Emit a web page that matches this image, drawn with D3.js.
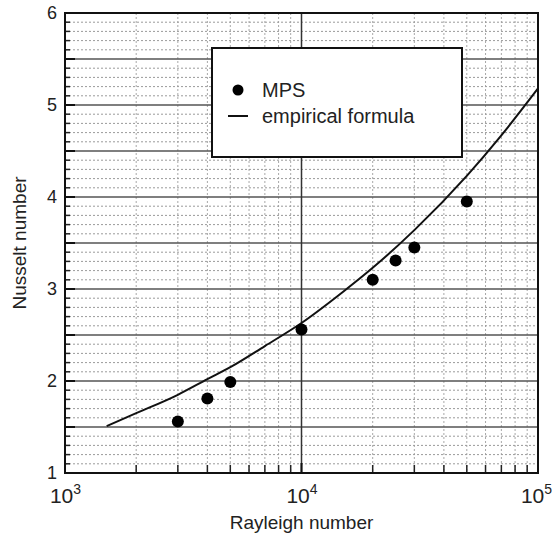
<!DOCTYPE html>
<html>
<head>
<meta charset="utf-8">
<script src="https://cdn.jsdelivr.net/npm/d3@7"></script>
<style>
  html, body { margin: 0; padding: 0; background: #fff; }
  svg { display: block; font-family: "Liberation Sans", Arial, sans-serif; }
</style>
</head>
<body>
<svg id="chart" width="552" height="540"></svg>
<script>
// ---- data ----
const raMPS = [3000, 4000, 5000, 10000, 20000, 25000, 30000, 50000];
const nuMPS = [1.56, 1.81, 1.99, 2.56, 3.10, 3.31, 3.45, 3.95];

const raFormula = [1500, 2000, 3000, 4000, 5000, 7000, 10000, 15000, 20000, 30000, 50000, 70000, 100000];
const nuFormula = [1.51, 1.65, 1.85, 2.02, 2.15, 2.38, 2.63, 2.97, 3.23, 3.64, 4.23, 4.67, 5.18];

const xTickValues = [1e3, 1e4, 1e5];
const xTickExponents = ["3", "4", "5"];
const yTickValues = [1, 2, 3, 4, 5, 6];
const legendLabels = ["MPS", "empirical formula"];
const xTitle = "Rayleigh number";
const yTitle = "Nusselt number";

// ---- layout ----
const pL = 65, pR = 538, pT = 13, pB = 473;
const svg = d3.select("#chart");

const x = d3.scaleLog().domain([1e3, 1e5]).range([pL, pR]);
const y = d3.scaleLinear().domain([1, 6]).range([pB, pT]);

// minor values
const xMinor = [];
[1e3, 1e4].forEach(d => { for (let k = 2; k <= 9; k++) xMinor.push(d * k); });
const yMinor = d3.range(11, 60).map(v => v / 10).filter(v => Math.abs(v * 2 - Math.round(v * 2)) > 1e-6);
const yHalf = d3.range(3, 12).map(v => v / 2); // 1.5 .. 5.5

const g = svg.append("g");

// minor grid (dotted)
g.selectAll(".vminor").data(xMinor).join("line")
  .attr("x1", d => x(d)).attr("x2", d => x(d))
  .attr("y1", pT).attr("y2", pB)
  .attr("stroke", "#a8a8a8").attr("stroke-width", 1)
  .attr("stroke-dasharray", "2,2");
g.selectAll(".hminor").data(yMinor).join("line")
  .attr("x1", pL).attr("x2", pR)
  .attr("y1", d => y(d)).attr("y2", d => y(d))
  .attr("stroke", "#9a9a9a").attr("stroke-width", 1)
  .attr("stroke-dasharray", "2,2");

// major grid
g.selectAll(".hmajor").data(yHalf).join("line")
  .attr("x1", pL).attr("x2", pR)
  .attr("y1", d => y(d)).attr("y2", d => y(d))
  .attr("stroke", "#555").attr("stroke-width", 1.5);
g.append("line")
  .attr("x1", x(1e4)).attr("x2", x(1e4))
  .attr("y1", pT).attr("y2", pB)
  .attr("stroke", "#333").attr("stroke-width", 1.5);

// inward tick marks
g.selectAll(".ytk").data(yMinor).join("line")
  .attr("x1", pL).attr("x2", pL + 5)
  .attr("y1", d => y(d)).attr("y2", d => y(d))
  .attr("stroke", "#222").attr("stroke-width", 1.5);
g.selectAll(".ytkM").data(yHalf).join("line")
  .attr("x1", pL).attr("x2", pL + 10)
  .attr("y1", d => y(d)).attr("y2", d => y(d))
  .attr("stroke", "#111").attr("stroke-width", 2);
g.selectAll(".xtk").data(xMinor).join("line")
  .attr("x1", d => x(d)).attr("x2", d => x(d))
  .attr("y1", pB).attr("y2", pB - 8)
  .attr("stroke", "#222").attr("stroke-width", 1.5);
g.append("line")
  .attr("x1", x(1e4)).attr("x2", x(1e4))
  .attr("y1", pB).attr("y2", pB - 10)
  .attr("stroke", "#111").attr("stroke-width", 2);

// frame
g.append("rect")
  .attr("x", pL).attr("y", pT)
  .attr("width", pR - pL).attr("height", pB - pT)
  .attr("fill", "none").attr("stroke", "#111").attr("stroke-width", 2);

// axes (labels only)
const xAxis = svg.append("g")
  .attr("transform", `translate(0,${pB})`)
  .call(d3.axisBottom(x).tickValues(xTickValues).tickSize(0).tickPadding(0));
xAxis.select(".domain").remove();
xAxis.selectAll("text").each(function(d, i) {
  const t = d3.select(this);
  t.text(null)
    .attr("y", 30).attr("dy", null)
    .attr("x", i === xTickValues.length - 1 ? -2 : 0)
    .attr("font-size", 21).attr("fill", "#222")
    .attr("font-family", "Liberation Sans, Arial, sans-serif");
  t.append("tspan").text("10");
  t.append("tspan").text(xTickExponents[i])
    .attr("font-size", 14).attr("dy", -9);
});

const yAxis = svg.append("g")
  .attr("transform", `translate(${pL},0)`)
  .call(d3.axisLeft(y).tickValues(yTickValues).tickSize(0).tickPadding(8).tickFormat(d3.format("d")));
yAxis.select(".domain").remove();
yAxis.selectAll("text")
  .attr("font-size", 18).attr("fill", "#222")
  .attr("font-family", "Liberation Sans, Arial, sans-serif");

// titles
svg.append("text")
  .attr("x", (pL + pR) / 2).attr("y", 529)
  .attr("text-anchor", "middle").attr("font-size", 19).attr("fill", "#222")
  .text(xTitle);
svg.append("text")
  .attr("transform", `translate(26,${(pT + pB) / 2}) rotate(-90)`)
  .attr("text-anchor", "middle").attr("font-size", 19).attr("fill", "#222")
  .text(yTitle);

// empirical curve
const lineGen = d3.line()
  .x(d => x(d[0])).y(d => y(d[1]))
  .curve(d3.curveMonotoneX);
svg.append("path")
  .datum(raFormula.map((r, i) => [r, nuFormula[i]]))
  .attr("d", lineGen)
  .attr("fill", "none").attr("stroke", "#111").attr("stroke-width", 2);

// MPS points
svg.selectAll(".pt").data(raMPS.map((r, i) => [r, nuMPS[i]])).join("circle")
  .attr("cx", d => x(d[0])).attr("cy", d => y(d[1]))
  .attr("r", 6).attr("fill", "#000");

// legend
const lg = svg.append("g");
lg.append("rect")
  .attr("x", 212).attr("y", 48).attr("width", 250).attr("height", 109)
  .attr("fill", "#fff").attr("stroke", "#111").attr("stroke-width", 2);
lg.append("circle").attr("cx", 238).attr("cy", 90).attr("r", 5.5).attr("fill", "#000");
lg.append("line").attr("x1", 228).attr("x2", 248).attr("y1", 116).attr("y2", 116)
  .attr("stroke", "#111").attr("stroke-width", 2);
lg.selectAll(".lt").data(legendLabels).join("text")
  .attr("x", 262).attr("y", (d, i) => 97 + i * 26)
  .attr("font-size", 20).attr("fill", "#222")
  .text(d => d);
</script>
</body>
</html>
